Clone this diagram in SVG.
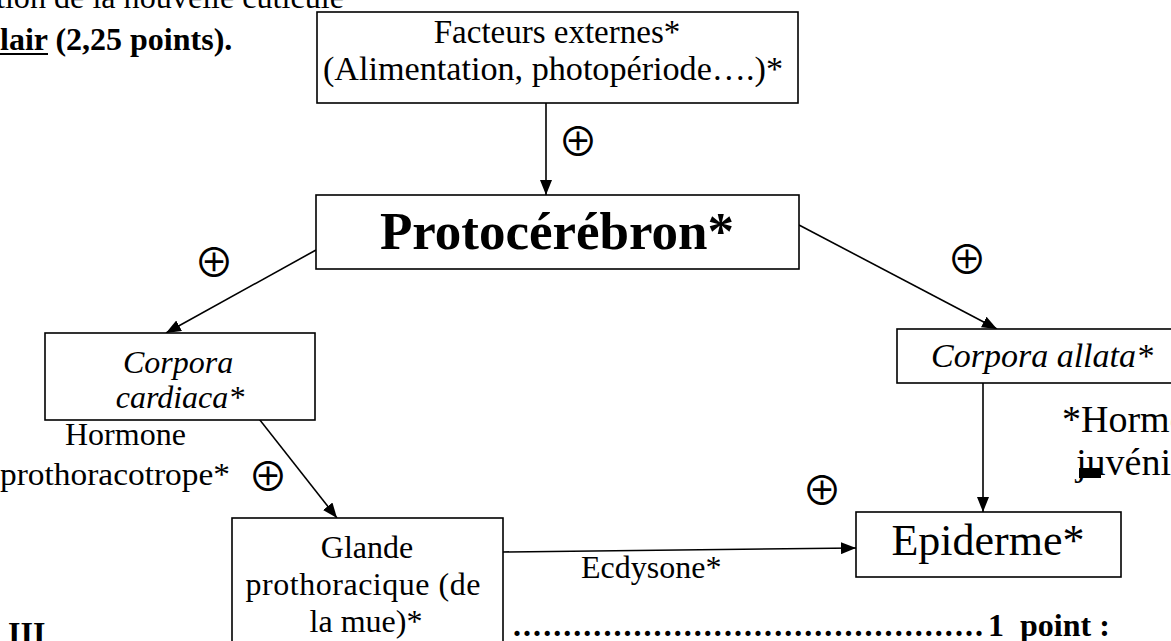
<svg xmlns="http://www.w3.org/2000/svg" width="1171" height="641" viewBox="0 0 1171 641">
  <defs>
    <style>
      .t { font-family: "Liberation Serif", "Times New Roman", serif; font-size: 32px; fill: #000; }
      .b { font-weight: bold; }
      .i { font-style: italic; }
      .m { text-anchor: middle; }
      .big { font-size: 53px; }
      .epi { font-size: 44px; }
      .fx { font-size: 33px; }
      .ca { font-size: 34px; }
      .rt { font-size: 38px; }
      .box { fill: #fff; stroke: #000; stroke-width: 1.6; }
      .ln { stroke: #000; stroke-width: 1.6; fill: none; }
      .plus { font-family: "Noto Sans CJK JP", "DejaVu Sans", sans-serif; font-size: 40px; text-anchor: middle; fill: #000; }
    </style>
    <marker id="ah" viewBox="0 0 15 12" refX="15" refY="6" markerWidth="15" markerHeight="12" markerUnits="userSpaceOnUse" orient="auto">
      <path d="M0,0 L15,6 L0,12 Z" fill="#000"/>
    </marker>
  </defs>
  <rect width="1171" height="641" fill="#fff"/>

  <!-- page text -->
  <g id="page-text">
    <text class="t" x="-4" y="8" textLength="348" lengthAdjust="spacingAndGlyphs">tion de la nouvelle cuticule</text>
    <text class="t b" x="0" y="50">lair (2,25 points).</text>
    <line x1="0" y1="54" x2="48" y2="54" stroke="#000" stroke-width="2"/>
    <text class="t b" x="8" y="644">III</text>
    <text class="t b" x="513" y="636" textLength="470" lengthAdjust="spacing">...............................................</text>
    <text class="t b" x="988" y="636" xml:space="preserve">1  point :</text>
    <text class="t rt" x="1062" y="432">*Hormone</text>
    <text class="t rt" x="1076" y="475">juvénile</text>
    <rect x="1079" y="468" width="22" height="10" fill="#000"/>
  </g>

  <!-- connectors -->
  <g id="connectors">
    <line class="ln" x1="546" y1="103" x2="546" y2="195" marker-end="url(#ah)"/>
    <line class="ln" x1="316" y1="250" x2="166" y2="333" marker-end="url(#ah)"/>
    <line class="ln" x1="799" y1="225" x2="997" y2="329" marker-end="url(#ah)"/>
    <line class="ln" x1="230" y1="382" x2="337" y2="518" marker-end="url(#ah)"/>
    <line class="ln" x1="503" y1="552" x2="856" y2="548" marker-end="url(#ah)"/>
    <line class="ln" x1="983" y1="383" x2="983" y2="512" marker-end="url(#ah)"/>
    <text class="plus" x="578" y="156">⊕</text>
    <text class="plus" x="214" y="277">⊕</text>
    <text class="plus" x="967" y="274">⊕</text>
    <text class="plus" x="268" y="491">⊕</text>
    <text class="plus" x="822" y="505">⊕</text>
    <text class="t" x="65" y="445">Hormone</text>
    <text class="t" x="0" y="485" textLength="230" lengthAdjust="spacingAndGlyphs">prothoracotrope*</text>
    <text class="t" x="581" y="578">Ecdysone*</text>
  </g>

  <g id="facteurs">
    <rect class="box" x="317" y="12" width="481" height="91"/>
    <text class="t m fx" x="557" y="43">Facteurs externes*</text>
    <text class="t fx" x="323" y="80" textLength="460" lengthAdjust="spacingAndGlyphs">(Alimentation, photopériode….)*</text>
  </g>

  <g id="protocerebron">
    <rect class="box" x="316" y="195" width="483" height="74"/>
    <text class="t b m big" x="557" y="249">Protocérébron*</text>
  </g>

  <g id="corpora-cardiaca">
    <rect class="box" x="45" y="333" width="270" height="87" fill="none"/>
    <text class="t i m" x="178" y="373">Corpora</text>
    <text class="t i m" x="180" y="408">cardiaca*</text>
  </g>

  <g id="corpora-allata">
    <rect class="box" x="897" y="329" width="290" height="54"/>
    <text class="t i ca" x="931" y="367">Corpora allata*</text>
  </g>

  <g id="glande">
    <rect class="box" x="232" y="518" width="271" height="140"/>
    <text class="t m" x="367" y="558">Glande</text>
    <text class="t m" x="363" y="595" textLength="235" lengthAdjust="spacing">prothoracique (de</text>
    <text class="t m" x="366" y="632">la mue)*</text>
  </g>

  <g id="epiderme">
    <rect class="box" x="856" y="512" width="265" height="65"/>
    <text class="t m epi" x="988" y="555">Epiderme*</text>
  </g>
</svg>
